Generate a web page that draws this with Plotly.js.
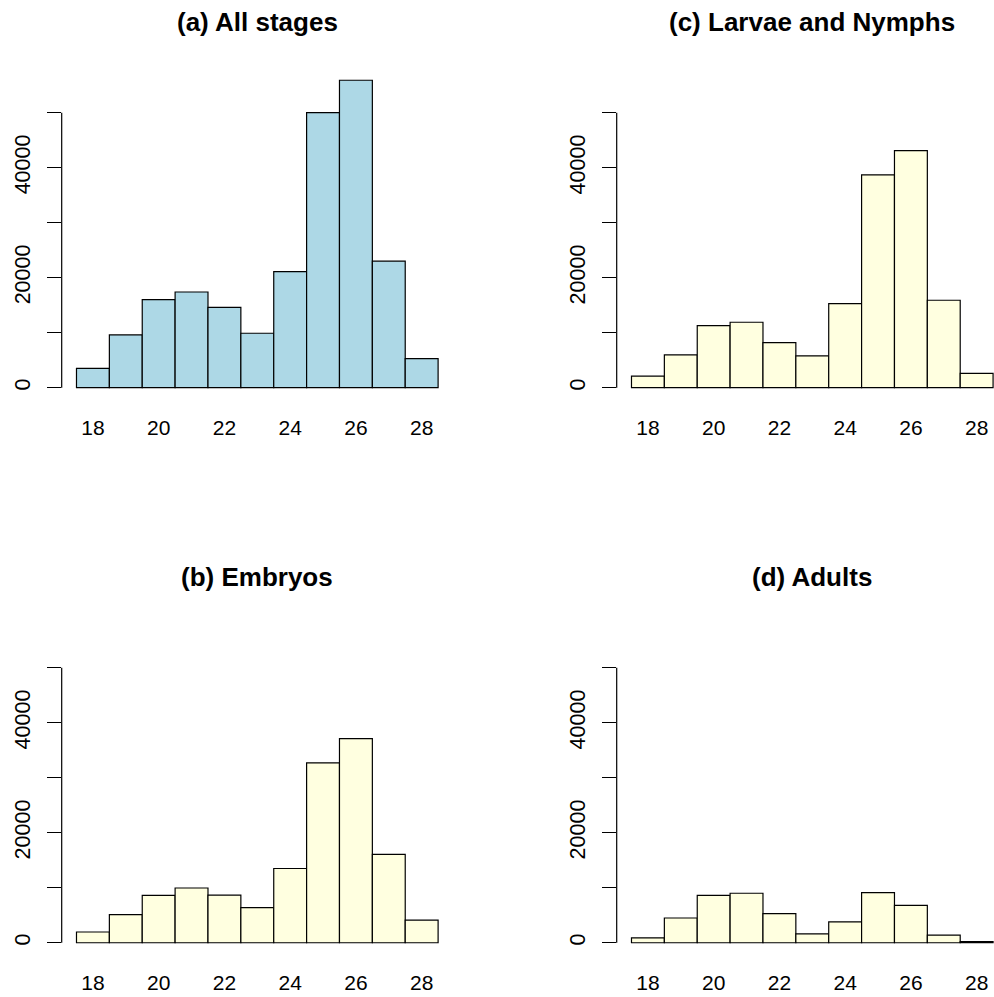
<!DOCTYPE html>
<html>
<head>
<meta charset="utf-8">
<script src="https://cdn.plot.ly/plotly-3.0.1.min.js"></script>
<style>
  html, body { margin: 0; padding: 0; background: #ffffff; }
  #chart { width: 994px; height: 997px; }
</style>
</head>
<body>
<div id="chart"></div>
<script>
// Temperature bins (bin centres, width 1)
const temps = [18, 19, 20, 21, 22, 23, 24, 25, 26, 27, 28];

// Counts per bin for each life stage
const allStages   = [3500, 9600, 16000, 17400, 14600, 9900, 21100, 50000, 55900, 23000, 5300];
const embryos     = [1950, 5100, 8600, 9950, 8650, 6400, 13500, 32700, 37100, 16050, 4100];
const larvaeNymph = [2100, 5950, 11300, 11900, 8200, 5800, 15300, 38700, 43100, 15900, 2600];
const adults      = [900, 4500, 8600, 9000, 5300, 1600, 3800, 9100, 6800, 1400, 200];

const panelTitles = ["(a) All stages", "(b) Embryos", "(c) Larvae and Nymphs", "(d) Adults"];

// y ticks every 10000, labelled every 20000
const yTickVals = [0, 10000, 20000, 30000, 40000, 50000];
const yTickText = ["0", "", "20000", "", "40000", ""];
const xTickVals = [18, 20, 22, 24, 26, 28];

const FONT = "Liberation Sans, Arial, Helvetica, sans-serif";

function hist(y, xa, ya, fill) {
  return {
    type: "bar", x: temps, y: y, width: 1,
    xaxis: xa, yaxis: ya,
    marker: { color: fill, line: { color: "#000000", width: 1.2 } },
    hoverinfo: "x+y", showlegend: false
  };
}

const data = [
  hist(allStages,   "x",  "y",  "#ADD8E6"),
  hist(embryos,     "x2", "y2", "#FFFFE0"),
  hist(larvaeNymph, "x3", "y3", "#FFFFE0"),
  hist(adults,      "x4", "y4", "#FFFFE0")
];

const leftDom  = [0.06207, 0.45563];
const rightDom = [0.62042, 1.0];
const topDom = [0.6001, 0.9311];
const botDom = [0.0434, 0.3744];

function xAxis(dom, rng, anchor) {
  return {
    domain: dom, range: rng, anchor: anchor,
    tickvals: xTickVals, ticktext: xTickVals.map(String),
    showline: false, ticks: "", showgrid: false, zeroline: false,
    ticklabelstandoff: 14,
    tickfont: { family: FONT, size: 21, color: "#000000" },
    fixedrange: true
  };
}
function yAxis(dom, anchor) {
  return {
    domain: dom, range: [-2000, 58000], anchor: anchor,
    tickvals: yTickVals, ticktext: yTickText, tickangle: -90,
    ticks: "outside", ticklen: 14, tickwidth: 1.2, tickcolor: "#000000",
    showline: false, showgrid: false, zeroline: false,
    ticklabelstandoff: 8,
    tickfont: { family: FONT, size: 21.5, color: "#000000" },
    fixedrange: true
  };
}

const xl = [17.05, 28.95];
const xr = [17.05, 28.528];

const annotations = [];
const titleSpec = [
  ["x",  0.9779, panelTitles[0]],
  ["x2", 0.4213, panelTitles[1]],
  ["x3", 0.9779, panelTitles[2]],
  ["x4", 0.4213, panelTitles[3]]
];
titleSpec.forEach(function (t) {
  annotations.push({
    xref: t[0], yref: "paper", x: 23, y: t[1],
    xanchor: "center", yanchor: "middle", showarrow: false,
    text: "<b>" + t[2] + "</b>",
    font: { family: FONT, size: 26, color: "#000000" }
  });
});

// y axis lines run from 0 to 50000 only
const shapes = [["x", "y"], ["x2", "y2"], ["x3", "y3"], ["x4", "y4"]].map(function (p) {
  return {
    type: "line", xref: p[0] + " domain", yref: p[1],
    x0: 0, x1: 0, y0: 0, y1: 50000,
    line: { color: "#000000", width: 1.2 }
  };
});

const layout = {
  width: 994, height: 997,
  margin: { l: 0, r: 0, t: 0, b: 0, pad: 0 },
  paper_bgcolor: "#ffffff", plot_bgcolor: "rgba(0,0,0,0)",
  bargap: 0, showlegend: false,
  font: { family: FONT, color: "#000000" },
  xaxis:  xAxis(leftDom,  xl, "y"),
  yaxis:  yAxis(topDom, "x"),
  xaxis2: xAxis(leftDom,  xl, "y2"),
  yaxis2: yAxis(botDom, "x2"),
  xaxis3: xAxis(rightDom, xr, "y3"),
  yaxis3: yAxis(topDom, "x3"),
  xaxis4: xAxis(rightDom, xr, "y4"),
  yaxis4: yAxis(botDom, "x4"),
  annotations: annotations,
  shapes: shapes
};

Plotly.newPlot("chart", data, layout, { staticPlot: true, displayModeBar: false });
</script>
</body>
</html>
